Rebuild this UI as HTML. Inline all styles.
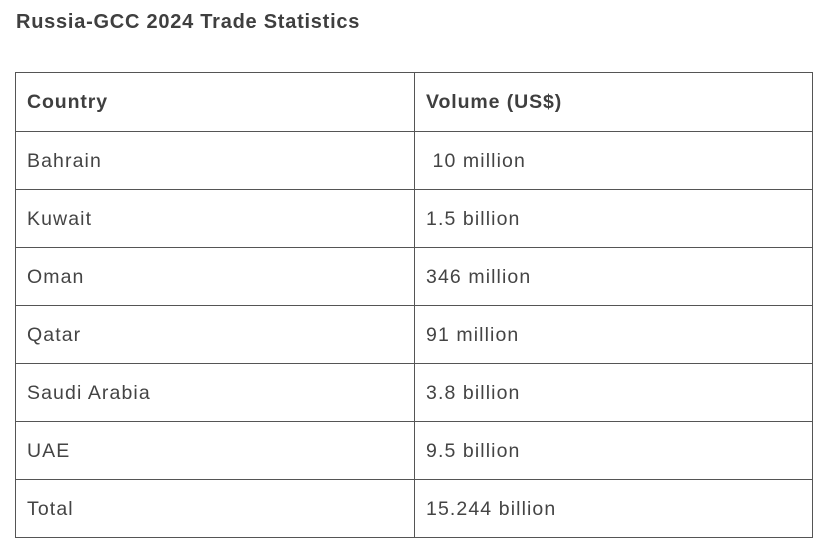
<!DOCTYPE html>
<html><head><meta charset="utf-8"><style>
body{margin:0;width:830px;height:552px;background:#fff;font-family:"Liberation Sans",sans-serif;color:#444;position:relative;overflow:hidden}
#title{position:absolute;left:16px;top:11px;font-size:20px;font-weight:bold;color:#3f3f3f;margin:0;letter-spacing:0.75px}
table{position:absolute;left:15px;top:72px;border-collapse:collapse;width:798px;table-layout:fixed}
td,th{border:1px solid #555;height:57px;box-sizing:border-box;padding:0 0 0 11px;text-align:left;font-size:19.5px;line-height:20px;vertical-align:middle;letter-spacing:1.1px}
th{font-weight:bold;color:#3f3f3f;height:58px;letter-spacing:0.9px}
td{color:#444}
tr{height:58px}
.c1{width:399px}
</style></head><body>
<h3 id="title">Russia-GCC 2024 Trade Statistics</h3>
<table>
<tr style="height:59px"><th class="c1">Country</th><th>Volume (US$)</th></tr>
<tr><td>Bahrain</td><td>&nbsp;10 million</td></tr>
<tr><td>Kuwait</td><td>1.5 billion</td></tr>
<tr><td>Oman</td><td>346 million</td></tr>
<tr><td>Qatar</td><td>91 million</td></tr>
<tr><td>Saudi Arabia</td><td>3.8 billion</td></tr>
<tr><td>UAE</td><td>9.5 billion</td></tr>
<tr><td>Total</td><td>15.244 billion</td></tr>
</table>
</body></html>
